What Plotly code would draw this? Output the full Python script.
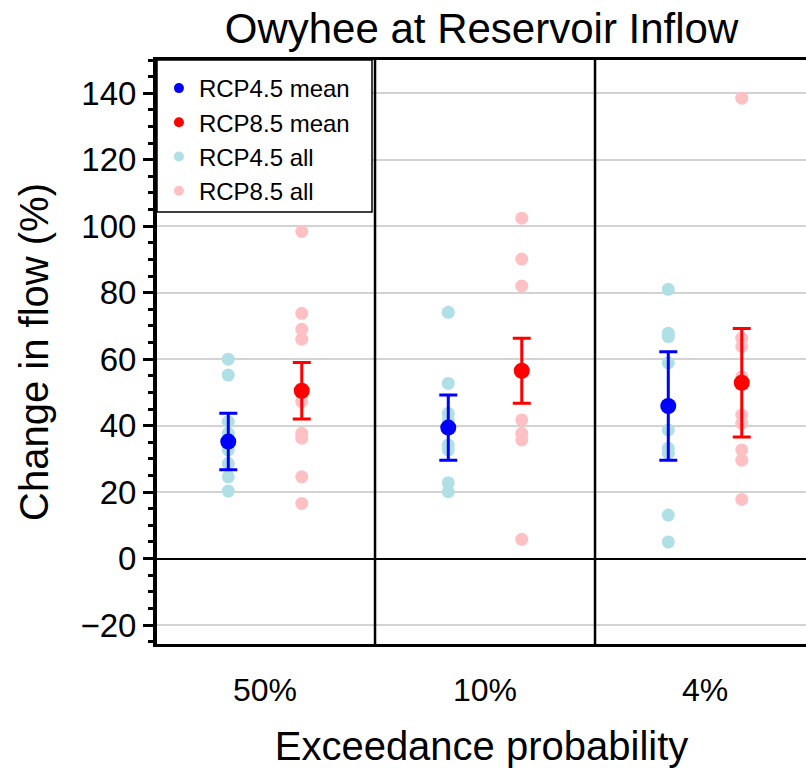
import plotly.graph_objects as go

categories = ["50%", "10%", "4%"]

rcp45_all = [
    [60.0, 55.2, 41.2, 37.7, 35.5, 32.7, 28.6, 24.6, 20.3],
    [74.1, 52.7, 43.7, 41.7, 34.2, 32.7, 22.8, 20.1],
    [81.0, 67.8, 66.8, 58.9, 38.7, 33.2, 31.7, 13.1, 5.0],
]
rcp85_all = [
    [98.4, 73.8, 69.0, 66.0, 47.2, 37.7, 36.2, 24.6, 16.6],
    [102.4, 90.1, 82.0, 41.7, 37.7, 35.7, 5.8],
    [138.5, 66.3, 63.8, 54.7, 43.2, 40.7, 32.7, 29.6, 17.8],
]
rcp45_mean = [35.2, 39.4, 45.9]
rcp45_err = [8.5, 9.8, 16.3]
rcp85_mean = [50.5, 56.5, 52.9]
rcp85_err = [8.5, 9.8, 16.3]

FONT = "Liberation Sans, Arial, Helvetica, sans-serif"
OFF = 0.167
C45, C85 = "#0000ff", "#ff0000"
C45L, C85L = "#b0dfe5", "#ffc0c4"

W, H = 806, 768
ML, MR, MT, MB = 157, 0, 60, 124
PW, PH = W - ML - MR, H - MT - MB

fig = go.Figure()

x45, y45, x85, y85 = [], [], [], []
for i, vals in enumerate(rcp45_all):
    x45 += [i - OFF] * len(vals)
    y45 += vals
for i, vals in enumerate(rcp85_all):
    x85 += [i + OFF] * len(vals)
    y85 += vals

fig.add_trace(go.Scatter(x=x45, y=y45, mode="markers", showlegend=False,
                         marker=dict(size=13, color=C45L), hoverinfo="y"))
fig.add_trace(go.Scatter(x=x85, y=y85, mode="markers", showlegend=False,
                         marker=dict(size=13, color=C85L), hoverinfo="y"))

fig.add_trace(go.Scatter(x=[i - OFF for i in range(len(categories))], y=rcp45_mean,
                         mode="markers", showlegend=False,
                         marker=dict(size=16, color=C45),
                         error_y=dict(type="data", array=rcp45_err, color=C45,
                                      thickness=3, width=9)))
fig.add_trace(go.Scatter(x=[i + OFF for i in range(len(categories))], y=rcp85_mean,
                         mode="markers", showlegend=False,
                         marker=dict(size=16, color=C85),
                         error_y=dict(type="data", array=rcp85_err, color=C85,
                                      thickness=3, width=9)))

for name, col in [("RCP4.5 mean", C45), ("RCP8.5 mean", C85),
                  ("RCP4.5 all", C45L), ("RCP8.5 all", C85L)]:
    fig.add_trace(go.Scatter(x=[None], y=[None], mode="markers", name=name,
                             marker=dict(size=10, color=col)))

for i in range(len(categories) - 1):
    fig.add_shape(type="line", xref="x", yref="paper", x0=i + 0.5, x1=i + 0.5,
                  y0=0, y1=1, line=dict(color="black", width=2.5), layer="above")

# legend frame
fig.add_shape(type="rect", xref="paper", yref="paper",
              x0=0, x1=(372 - ML) / PW, y0=1 - (212 - MT) / PH, y1=1,
              line=dict(color="black", width=1.5), fillcolor="white", layer="above")

fig.update_layout(
    width=W, height=H,
    margin=dict(l=ML, r=MR, t=MT, b=MB),
    paper_bgcolor="white", plot_bgcolor="white",
    font=dict(family=FONT, color="black"),
    title=dict(text="Owyhee at Reservoir Inflow", x=0.5, xref="paper",
               y=1 - 28 / H, yref="container", yanchor="middle",
               font=dict(size=42, color="black")),
    showlegend=True,
    legend=dict(x=0.003, y=1 - 6 / PH, xanchor="left", yanchor="top",
                bgcolor="rgba(0,0,0,0)", borderwidth=0,
                font=dict(size=24, color="black"), traceorder="normal",
                itemsizing="trace"),
    xaxis=dict(range=[-0.491, 2.459], tickmode="array",
               tickvals=list(range(len(categories))), ticktext=categories,
               tickfont=dict(size=32), ticks="", ticklabelstandoff=16,
               showgrid=False, zeroline=False,
               showline=True, linecolor="black", linewidth=3, mirror=True,
               title=dict(text="Exceedance probability", font=dict(size=40),
                          standoff=26)),
    yaxis=dict(range=[-25.7, 150], tickmode="linear", tick0=0, dtick=20,
               tickfont=dict(size=33), ticks="outside", ticklen=10, tickwidth=3,
               tickcolor="black",
               minor=dict(dtick=5, ticks="outside", ticklen=5, tickwidth=3,
                          tickcolor="black", showgrid=False),
               showgrid=True, gridcolor="#d3d3d3", gridwidth=1.5,
               zeroline=True, zerolinecolor="black", zerolinewidth=2,
               showline=True, linecolor="black", linewidth=4,
               title=dict(text="Change in flow (%)", font=dict(size=40),
                          standoff=20)),
)

fig.write_html("out.html")
